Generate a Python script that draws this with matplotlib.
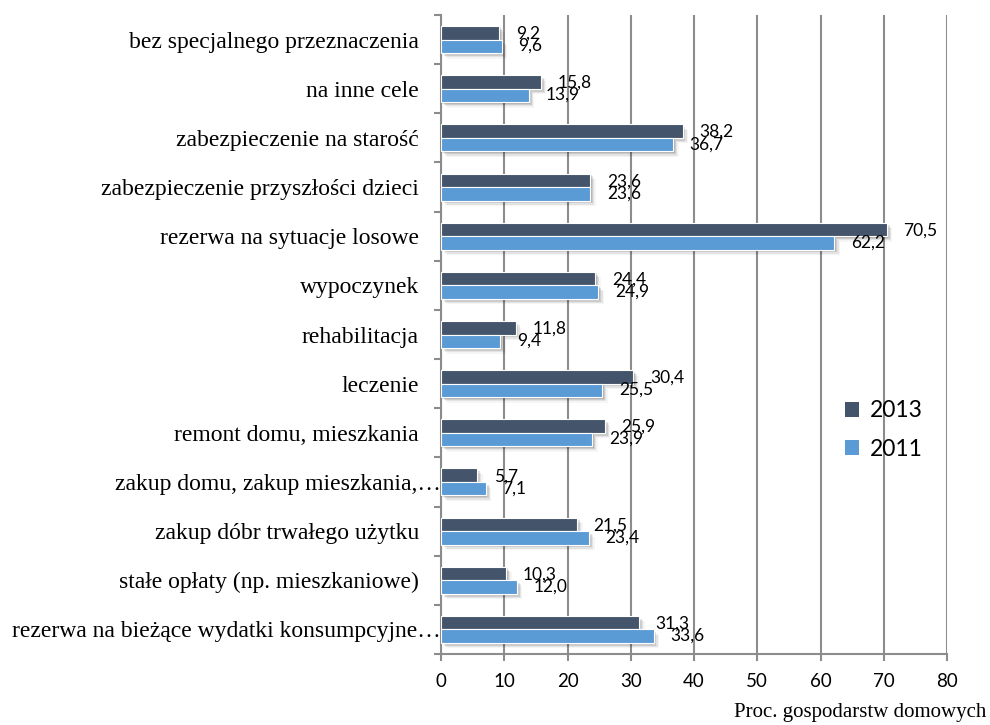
import matplotlib
matplotlib.use("Agg")
import matplotlib.pyplot as plt
import matplotlib.patheffects as pe
from matplotlib.transforms import ScaledTranslation
from matplotlib.patches import Patch
import numpy as np

categories = [
    "bez specjalnego przeznaczenia",
    "na inne cele",
    "zabezpieczenie na starość",
    "zabezpieczenie przyszłości dzieci",
    "rezerwa na sytuacje losowe",
    "wypoczynek",
    "rehabilitacja",
    "leczenie",
    "remont domu, mieszkania",
    "zakup domu, zakup mieszkania,…",
    "zakup dóbr trwałego użytku",
    "stałe opłaty (np. mieszkaniowe)",
    "rezerwa na bieżące wydatki konsumpcyjne…",
]
values_2013 = [9.2, 15.8, 38.2, 23.6, 70.5, 24.4, 11.8, 30.4, 25.9, 5.7, 21.5, 10.3, 31.3]
values_2011 = [9.6, 13.9, 36.7, 23.6, 62.2, 24.9, 9.4, 25.5, 23.9, 7.1, 23.4, 12.0, 33.6]
series_names = ["2013", "2011"]
x_ticks = [0, 10, 20, 30, 40, 50, 60, 70, 80]
x_label = "Proc. gospodarstw domowych"

c_dark = "#44546A"
c_light = "#5B9BD5"
grid_c = "#8C8C8C"

fig = plt.figure(figsize=(9.9, 7.25), dpi=100)
ax = fig.add_axes([441/990, 1-654/725, (947-441)/990, (654-15)/725])

y = np.arange(len(categories))
h = 0.275
shadow = [
    pe.SimplePatchShadow(offset=(1.0, -1.0), shadow_rgbFace="#000000", alpha=0.12),
    pe.SimplePatchShadow(offset=(2.0, -2.0), shadow_rgbFace="#000000", alpha=0.10),
    pe.SimplePatchShadow(offset=(3.0, -3.0), shadow_rgbFace="#000000", alpha=0.07),
    pe.SimplePatchShadow(offset=(4.0, -4.0), shadow_rgbFace="#000000", alpha=0.04),
    pe.Normal(),
]
b1 = ax.barh(y - h/2, values_2013, height=h, color=c_dark, edgecolor="white", linewidth=0.8,
             label=series_names[0], zorder=3)
b2 = ax.barh(y + h/2, values_2011, height=h, color=c_light, edgecolor="white", linewidth=0.8,
             label=series_names[1], zorder=3)
for b in list(b1) + list(b2):
    b.set_path_effects(shadow)

def fmt(v):
    return f"{v:.1f}".replace(".", ",")

num_font = dict(family="Lato", fontsize=12.5, color="black")
for yi, v in zip(y, values_2013):
    ax.annotate(fmt(v), (v, yi - h/2 + 0.02), xytext=(12, 0), textcoords="offset points",
                ha="left", va="center", zorder=5, **num_font)
for yi, v in zip(y, values_2011):
    ax.annotate(fmt(v), (v, yi + h/2 - 0.01), xytext=(12, 0), textcoords="offset points",
                ha="left", va="center", zorder=5, **num_font)

ax.set_xlim(0, 80)
ax.set_ylim(len(categories) - 0.5, -0.5)
ax.set_xticks(x_ticks)
ax.set_xticklabels([str(t) for t in x_ticks], family="Lato", fontsize=13.5)
ax.set_yticks(y)
ax.set_yticklabels(categories, family="Liberation Serif", fontsize=17)
ax.tick_params(axis="y", length=0, pad=16)
for lbl in ax.get_yticklabels():
    if lbl.get_text().endswith("…"):
        lbl.set_transform(lbl.get_transform() + ScaledTranslation(16/72, 0, fig.dpi_scale_trans))
ax.set_yticks(np.arange(len(categories) + 1) - 0.5, minor=True)
ax.tick_params(axis="y", which="minor", length=5, width=1.5, color=grid_c)
ax.tick_params(axis="x", length=5, width=1.5, color=grid_c, pad=9)

ax.grid(axis="x", color=grid_c, linewidth=1.5, zorder=0)
ax.set_axisbelow(True)
for s in ["top", "right"]:
    ax.spines[s].set_visible(False)
for s in ["left", "bottom"]:
    ax.spines[s].set_color(grid_c)
    ax.spines[s].set_linewidth(1.5)

handles = [Patch(facecolor=c_dark, edgecolor="none"), Patch(facecolor=c_light, edgecolor="none")]
leg = fig.legend(handles, series_names, loc="center left", bbox_to_anchor=(834/990, 1-430/725),
                 frameon=False, prop=dict(family="Lato", size=16.5), handlelength=0.6,
                 handleheight=0.6, handletextpad=0.45, labelspacing=0.75, borderpad=0)

fig.text(986/990, 1-713/725, x_label, ha="right", va="center", family="Liberation Serif", fontsize=15)

fig.savefig("out.png", dpi=100, facecolor="white")
